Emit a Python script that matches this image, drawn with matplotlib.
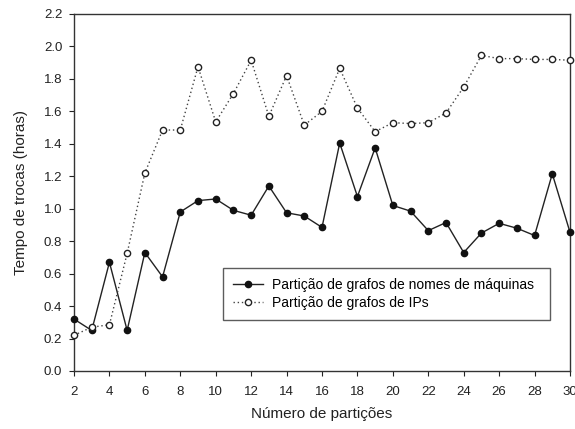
import numpy as np
import matplotlib.pyplot as plt

plt.rcParams['font.family'] = ['Liberation Sans', 'DejaVu Sans']

particoes = list(range(2, 31))
nomes_maquinas = [0.32, 0.25, 0.67, 0.25, 0.73, 0.58, 0.98, 1.05, 1.06, 0.99,
                  0.96, 1.14, 0.975, 0.955, 0.885, 1.405, 1.075, 1.375, 1.02, 0.985,
                  0.865, 0.915, 0.73, 0.85, 0.91, 0.88, 0.835, 1.215, 0.855]
ips = [0.22, 0.27, 0.285, 0.725, 1.22, 1.485, 1.485, 1.875, 1.535, 1.71,
       1.915, 1.57, 1.82, 1.515, 1.60, 1.865, 1.62, 1.475, 1.53, 1.525,
       1.53, 1.59, 1.75, 1.945, 1.925, 1.925, 1.92, 1.92, 1.915]

fig = plt.figure(figsize=(5.75, 4.29), dpi=100)
ax = fig.add_axes([0.1287, 0.1352, 0.8626, 0.8322])

ax.plot(particoes, nomes_maquinas, color='#222222', linewidth=1.0, marker='o',
        markersize=4.5, markerfacecolor='#111111', markeredgecolor='#111111',
        label='Partição de grafos de nomes de máquinas', clip_on=False, zorder=3)
ax.plot(particoes, ips, color='#444444', linewidth=1.0, linestyle=(0, (1, 2)),
        marker='o', markersize=4.5, markerfacecolor='white', markeredgecolor='#222222',
        markeredgewidth=1.0, label='Partição de grafos de IPs', clip_on=False, zorder=3)

ax.set_xlim(2, 30)
ax.set_ylim(0, 2.2)
ax.set_xticks(range(2, 31, 2))
ax.set_yticks(np.arange(0, 2.21, 0.2))
ax.set_yticklabels([f'{v:.1f}' for v in np.arange(0, 2.21, 0.2)])
ax.tick_params(direction='out', length=3.5, width=0.8, labelsize=9.5, colors='#222222')
ax.tick_params(axis='x', pad=7)
ax.tick_params(axis='y', pad=5)
for s in ax.spines.values():
    s.set_color('#333333')
    s.set_linewidth(1.0)

ax.set_xlabel('Número de partições', fontsize=11, labelpad=7, color='#222222')
ax.set_ylabel('Tempo de trocas (horas)', fontsize=11, labelpad=11, color='#222222')

leg = ax.legend(loc='lower left', bbox_to_anchor=(0.30, 0.143, 0.66, 0.148),
                mode='expand', borderaxespad=0, fontsize=10, frameon=True,
                fancybox=False, edgecolor='#333333', handlelength=2.2,
                handletextpad=0.65, borderpad=0.7, labelspacing=0.3)
leg.get_frame().set_linewidth(1.0)

fig.savefig('out.png', dpi=100)
